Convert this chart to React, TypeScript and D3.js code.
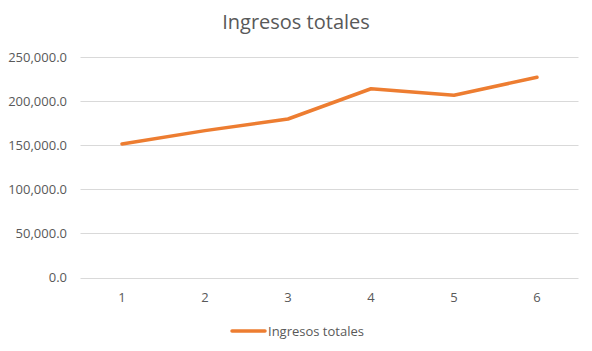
import React from 'react';
import * as d3 from 'd3';

const categories = ['1', '2', '3', '4', '5', '6'];
const ingresos = [151400, 166500, 179700, 214000, 206600, 227000];
const yTicks = [0, 50000, 100000, 150000, 200000, 250000];
const seriesName = 'Ingresos totales';

const W = 592;
const H = 351;
const font = "'Open Sans', 'Noto Sans', sans-serif";

const App: React.FC = () => {
  const x = d3.scaleBand<string>().domain(categories).range([80.5, 578.5]);
  const y = d3.scaleLinear().domain([0, 250000]).range([277.5, 57]);
  const fmt = d3.format(',.1f');

  const line = d3.line<number>()
    .x((_, i) => x(categories[i])! + x.bandwidth() / 2)
    .y(d => y(d));

  return (
    <svg width={W} height={H} style={{position: 'absolute', left: 0, top: 0, background: '#fff'}}>
      <text x={296} y={29} textAnchor="middle" fontFamily={font} fontSize={20} fill="#595959">
        Ingresos totales
      </text>
      {yTicks.map(t => (
        <g key={t}>
          <line x1={80.5} x2={578.5} y1={Math.round(y(t)) + 0.5} y2={Math.round(y(t)) + 0.5}
                stroke="#d9d9d9" strokeWidth={1}/>
          <text x={67} y={y(t) + 4.5} textAnchor="end" fontFamily={font} fontSize={13} fill="#595959">
            {fmt(t)}
          </text>
        </g>
      ))}
      {categories.map(c => (
        <text key={c} x={x(c)! + x.bandwidth() / 2} y={302} textAnchor="middle"
              fontFamily={font} fontSize={13} fill="#595959">{c}</text>
      ))}
      <path d={line(ingresos)!} fill="none" stroke="#ED7D31" strokeWidth={3.5}
            strokeLinejoin="round" strokeLinecap="round"/>
      <line x1={232} x2={265} y1={331} y2={331} stroke="#ED7D31" strokeWidth={3.5} strokeLinecap="round"/>
      <text x={268} y={335.5} fontFamily={font} fontSize={13} fill="#595959">{seriesName}</text>
    </svg>
  );
};

export default App;
